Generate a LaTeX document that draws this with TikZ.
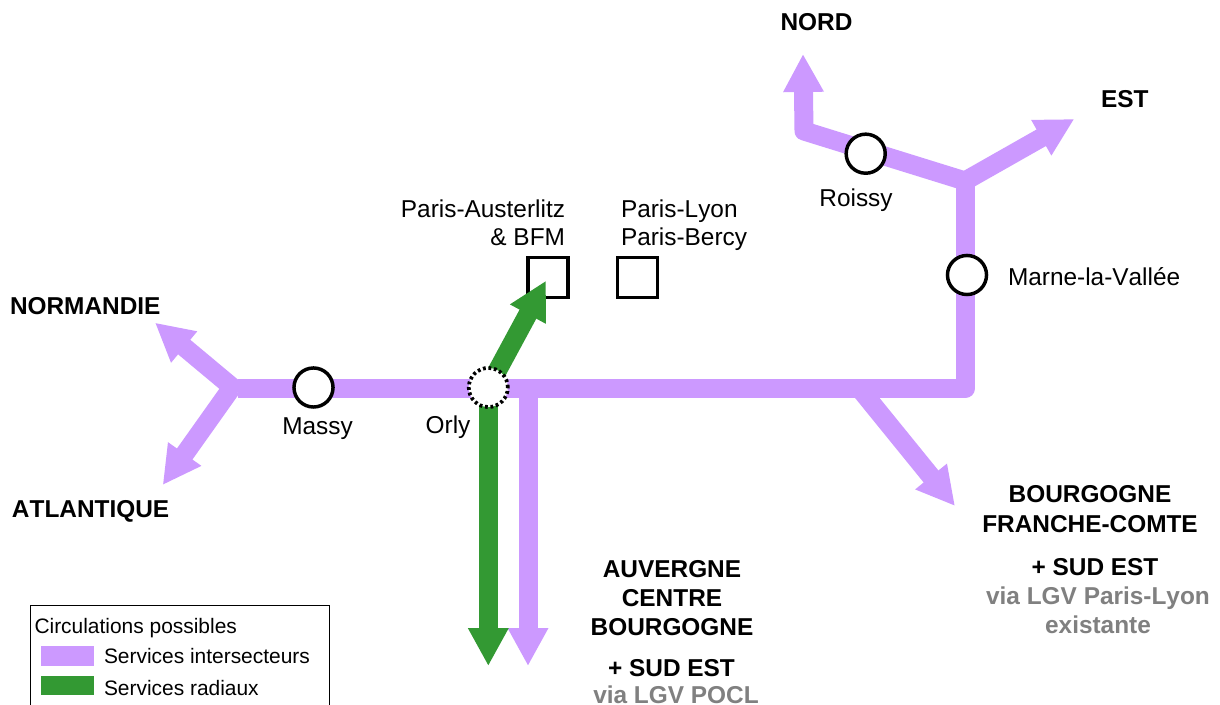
\documentclass[tikz,border=0pt]{standalone}
\usepackage{fontspec}
\setmainfont[Kerning=Off]{Liberation Sans}
\usetikzlibrary{arrows.meta}
\definecolor{intersect}{HTML}{CC99FF}
\definecolor{radial}{HTML}{339933}
\definecolor{viagrey}{HTML}{808080}
\tikzset{
  lbl/.style={inner sep=0pt,outer sep=0pt,font=\fontsize{18.3}{22}\selectfont},
  bigl/.style={lbl,font=\fontsize{18.3}{22.1}\selectfont\bfseries},
  legl/.style={inner sep=0pt,outer sep=0pt,anchor=base west,font=\fontsize{15.7}{18}\selectfont},
  track/.style={line width=14.25pt,line join=round},
  trackhead/.style={track,-{Triangle[length=28.5pt,width=28.5pt]}},
  inter/.style={draw=intersect,trackhead},
  radi/.style={draw=radial,trackhead},
  station/.style={circle,draw=black,fill=white,line width=2.6pt,minimum size=29.3pt,inner sep=0pt},
  orlystn/.style={station,line width=2.8pt,dash pattern=on 2.1pt off 2.05pt},
  terminus/.style={rectangle,draw=black,line width=2.5pt,minimum size=29.8pt,inner sep=0pt},
  swatch/.style={rectangle,minimum width=39.75pt,minimum height=14.5pt,inner sep=0pt},
}
\begin{document}
\begin{tikzpicture}[x=.75pt,y=-.75pt]
\useasboundingbox (0,0) rectangle (1220,705);
\fill[white] (0,0) rectangle (1220,705);
% junctions and arrow ends
\coordinate (west) at (238,388.8);
\coordinate (westN) at (238,392);
\coordinate (westS) at (231.5,388.1);
\coordinate (tipNorm) at (155,322.7);
\coordinate (tipAtl) at (162.7,485);
\coordinate (corner) at (965,388.8);
\coordinate (jn) at (965,181);
\coordinate (bendN) at (804,131);
\coordinate (tipNord) at (803,54);
\coordinate (tipEst) at (1074.3,119);
\coordinate (seStart) at (860,389);
\coordinate (tipSE) at (955,506);
\coordinate (pocl) at (528,388.8);
\coordinate (tipPocl) at (528,666);
\coordinate (orlyc) at (488.3,387.5);
\coordinate (tipRad) at (488.3,666);
\coordinate (tipAust) at (546,280.7);
% purple tracks
\draw[inter] (westN) -- (tipNorm);
\draw[inter] (westS) -- (tipAtl);
\draw[draw=intersect,track] (west) -- (corner) -- (jn);
\draw[inter] (jn) -- (bendN) -- (tipNord);
\draw[inter] (jn) -- (tipEst);
\draw[inter] (seStart) -- (tipSE);
\draw[inter] (pocl) -- (tipPocl);
% terminus squares
\node[terminus] (aust) at (548,277.6) {};
\node[terminus] (lyon) at (637.6,277.6) {};
% green tracks
\draw[radi] (orlyc) -- (tipRad);
\draw[radi] (orlyc) -- (tipAust);
% stations
\node[orlystn] (orly) at (orlyc) {};
\node[station] (massy) at (313.5,387.5) {};
\node[station] (roissy) at (865.7,153.7) {};
\node[station] (marne) at (967,275) {};
% labels
\node[bigl,anchor=base] (lnord) at (816.5,31) {NORD};
\node[bigl,anchor=base west] (lest) at (1101,108) {EST};
\node[bigl,anchor=base west] (lnorm) at (10,315) {NORMANDIE};
\node[bigl,anchor=base west] (latl) at (12,517) {ATLANTIQUE};
\node[lbl,anchor=base] (lmassy) at (317.5,435) {Massy};
\node[lbl,anchor=base] (lorly) at (448,434) {Orly};
\node[lbl,anchor=base] (lroissy) at (856,207) {Roissy};
\node[lbl,anchor=base west] (lmarne) at (1008,286) {Marne-la-Vallée};
\node[lbl,anchor=north east,align=right,font=\fontsize{18.3}{21.3}\selectfont] (laust) at (565,199.5) {Paris-Austerlitz\\\& BFM};
\node[lbl,anchor=north west,align=left,font=\fontsize{18.3}{21.3}\selectfont] (llyon) at (621,199.5) {Paris-Lyon\\Paris-Bercy};
\node[bigl,anchor=north,align=center] (lauv) at (672,560) {AUVERGNE\\CENTRE\\BOURGOGNE};
\node[bigl,anchor=base] (lsud1) at (671.5,676) {+ SUD EST};
\node[bigl,anchor=base,text=viagrey] (lpocl) at (676,703) {via LGV POCL};
\node[bigl,anchor=north,align=center] (lbfc) at (1090,485.5) {BOURGOGNE\\FRANCHE-COMTE};
\node[bigl,anchor=base] (lsud2) at (1095,575.5) {+ SUD EST};
\node[bigl,anchor=north,align=center,text=viagrey] (lvia) at (1098,586.5) {via LGV Paris-Lyon\\existante};
% legend
\draw[black,line width=1pt] (30.7,705) -- (30.7,605.7) -- (329.5,605.7) -- (329.5,705);
\node[legl] (lc) at (34.5,633.7) {Circulations possibles};
\node[swatch,fill=intersect] (si) at (67.5,656) {};
\node[legl] (lsi) at (104,663.7) {Services intersecteurs};
\node[swatch,fill=radial] (sr) at (67.5,685.7) {};
\node[legl] (lsr) at (104,695) {Services radiaux};
\end{tikzpicture}
\end{document}
